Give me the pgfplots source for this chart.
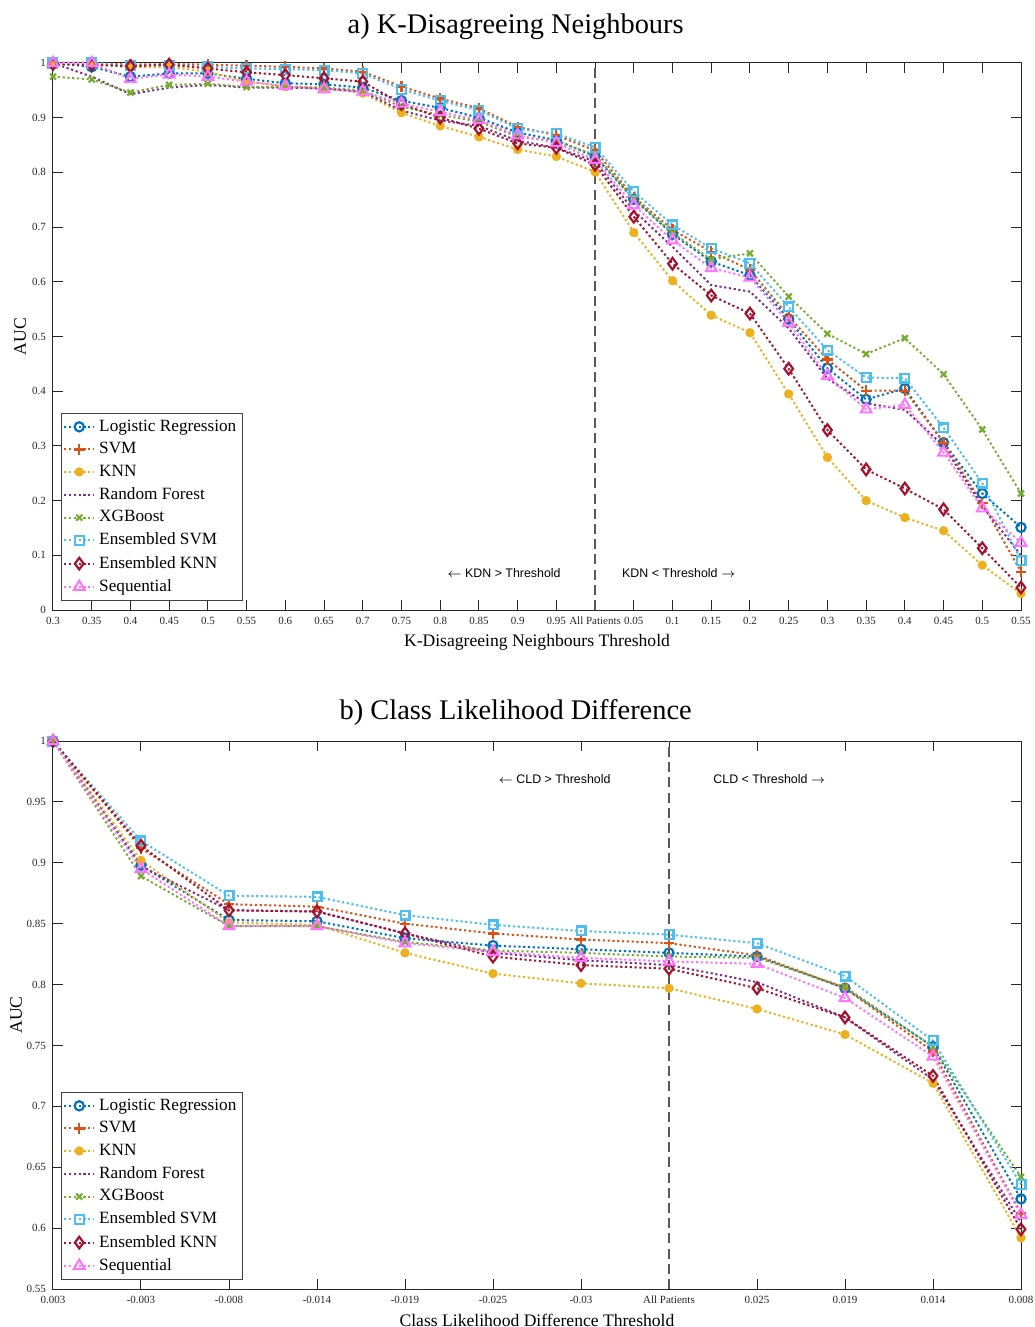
\documentclass[border=0pt]{standalone}
\usepackage{fontspec}
\setmainfont{Liberation Serif}
\newfontfamily\sansf{Liberation Sans}
\usepackage{pgfplots}
\usepackage{pgfplotstable}
\pgfplotsset{compat=1.18}

\definecolor{cLR}{rgb}{0,0.447,0.741}
\definecolor{cSVM}{rgb}{0.85,0.325,0.098}
\definecolor{cKNN}{rgb}{0.929,0.694,0.125}
\definecolor{cRF}{rgb}{0.494,0.184,0.556}
\definecolor{cXGB}{rgb}{0.466,0.674,0.188}
\definecolor{cESVM}{rgb}{0.301,0.745,0.933}
\definecolor{cEKNN}{rgb}{0.635,0.078,0.184}
\definecolor{cSEQ}{rgb}{1,0.45,1}
\definecolor{axgray}{rgb}{0.15,0.15,0.15}

\tikzset{annot/.style={font=\sansf\fontsize{6.2}{7}\selectfont, inner sep=0pt}}

\pgfplotstableread{
i lr svm knn rf xgb esvm eknn seq
0 1.000 1.000 1.000 1.000 0.975 1.000 0.998 1.000
1 0.993 1.000 0.998 0.975 0.970 1.000 0.997 1.000
2 0.975 0.997 0.992 0.943 0.946 0.995 0.994 0.971
3 0.981 0.998 0.993 0.955 0.960 0.996 0.997 0.979
4 0.981 0.997 0.984 0.960 0.962 0.993 0.990 0.975
5 0.971 0.995 0.966 0.955 0.956 0.990 0.983 0.966
6 0.963 0.993 0.957 0.955 0.956 0.989 0.978 0.958
7 0.961 0.990 0.955 0.953 0.955 0.987 0.972 0.952
8 0.955 0.984 0.945 0.948 0.950 0.981 0.966 0.948
9 0.931 0.957 0.909 0.913 0.920 0.952 0.925 0.926
10 0.918 0.935 0.885 0.895 0.905 0.931 0.900 0.911
11 0.900 0.917 0.865 0.885 0.893 0.914 0.880 0.896
12 0.873 0.883 0.842 0.858 0.865 0.880 0.853 0.868
13 0.859 0.868 0.829 0.845 0.857 0.871 0.845 0.854
14 0.829 0.840 0.801 0.820 0.832 0.846 0.814 0.823
15 0.751 0.755 0.690 0.730 0.752 0.765 0.719 0.740
16 0.687 0.695 0.602 0.664 0.689 0.704 0.633 0.676
17 0.637 0.655 0.539 0.594 0.641 0.661 0.575 0.625
18 0.612 0.622 0.507 0.582 0.652 0.634 0.542 0.608
19 0.532 0.537 0.395 0.515 0.573 0.554 0.441 0.525
20 0.442 0.458 0.279 0.423 0.505 0.475 0.329 0.428
21 0.385 0.401 0.200 0.378 0.468 0.425 0.257 0.367
22 0.405 0.401 0.169 0.366 0.497 0.424 0.222 0.375
23 0.306 0.306 0.145 0.300 0.431 0.333 0.184 0.288
24 0.213 0.195 0.082 0.190 0.330 0.232 0.113 0.186
25 0.151 0.070 0.030 0.100 0.213 0.091 0.041 0.123
}\kdn

\pgfplotstableread{
i lr svm knn rf xgb esvm eknn seq
0 1.000 1.000 1.000 1.000 1.000 1.000 1.000 1.000
1 0.898 0.912 0.902 0.897 0.889 0.918 0.914 0.895
2 0.853 0.866 0.851 0.861 0.848 0.873 0.861 0.848
3 0.852 0.864 0.849 0.860 0.848 0.872 0.860 0.848
4 0.838 0.850 0.826 0.842 0.835 0.857 0.842 0.834
5 0.832 0.842 0.809 0.826 0.828 0.849 0.823 0.827
6 0.829 0.837 0.801 0.820 0.826 0.844 0.816 0.822
7 0.826 0.834 0.797 0.816 0.823 0.841 0.813 0.819
8 0.823 0.824 0.780 0.802 0.822 0.834 0.797 0.817
9 0.797 0.797 0.759 0.773 0.798 0.807 0.773 0.789
10 0.749 0.745 0.719 0.722 0.749 0.754 0.725 0.741
11 0.624 0.612 0.592 0.605 0.642 0.636 0.599 0.611
}\cld

\pgfplotsset{
  dotln/.style={line width=1pt, dash pattern=on 1.1pt off 1.3pt},
  sLR/.style={dotln, color=cLR, mark=o, mark size=2.3pt, mark options={solid, line width=1.1pt}},
  sSVM/.style={dotln, color=cSVM, mark=+, mark size=2.7pt, mark options={solid, line width=1.1pt}},
  sKNN/.style={dotln, color=cKNN, mark=*, mark size=1.8pt, mark options={solid, fill=cKNN}},
  sRF/.style={dotln, color=cRF, mark=none},
  sXGB/.style={dotln, color=cXGB, mark=x, mark size=2.1pt, mark options={solid, line width=1.1pt}},
  sESVM/.style={dotln, color=cESVM, mark=square, mark size=2.2pt, mark options={solid, line width=1.1pt}},
  sEKNN/.style={dotln, color=cEKNN, mark=diamond, mark size=2.9pt, mark options={solid, line width=1.1pt}},
  sSEQ/.style={dotln, color=cSEQ, mark=triangle, mark size=3.1pt, mark options={solid, line width=1pt}},
  common/.style={
    scale only axis,
    width=484pt,
    clip=false,
    axis line style={axgray, line width=0.5pt},
    tick style={axgray, line width=0.5pt},
    major tick length=5pt,
    tick align=inside,
    xtick pos=both, ytick pos=both,
    tick label style={font=\fontsize{5.5}{6}\selectfont, text=axgray},
    /pgf/number format/assume math mode=true,
    label style={font=\fontsize{8.8}{10}\selectfont, text=black},
    ylabel style={at={(axis description cs:-0.034,0.5)}, anchor=center, rotate=0},
    legend cell align=left,
    legend style={at={(rel axis cs:0.008,0.017)}, anchor=south west,
      font=\fontsize{8.6}{10}\selectfont, draw=black!75, line width=0.5pt,
      inner sep=1pt, row sep=0.1pt, fill=white},
    legend image code/.code={\draw[mark repeat=2,mark phase=2] plot coordinates {(0pt,0pt) (7.5pt,0pt) (15pt,0pt)};},
    xtick=data,
  },
}

\begin{document}
\begin{tikzpicture}
\begin{axis}[common, name=top, at={(0,0)}, anchor=north west,
  height=273.5pt,
  xmin=0, xmax=25, ymin=0, ymax=1,
  ytick={0,0.1,...,1},
  xticklabels={0.3,0.35,0.4,0.45,0.5,0.55,0.6,0.65,0.7,0.75,0.8,0.85,0.9,0.95,All Patients,0.05,0.1,0.15,0.2,0.25,0.3,0.35,0.4,0.45,0.5,0.55},
  xlabel={K-Disagreeing Neighbours Threshold},
  xlabel style={at={(axis description cs:0.5,-0.0585)}, anchor=center},
  ylabel={AUC},
]
\addplot[sLR] table[x=i,y=lr]{\kdn}; \addlegendentry{Logistic Regression}
\addplot[sSVM] table[x=i,y=svm]{\kdn}; \addlegendentry{SVM}
\addplot[sKNN] table[x=i,y=knn]{\kdn}; \addlegendentry{KNN}
\addplot[sRF] table[x=i,y=rf]{\kdn}; \addlegendentry{Random Forest}
\addplot[sXGB] table[x=i,y=xgb]{\kdn}; \addlegendentry{XGBoost}
\addplot[sESVM] table[x=i,y=esvm]{\kdn}; \addlegendentry{Ensembled SVM}
\addplot[sEKNN] table[x=i,y=eknn]{\kdn}; \addlegendentry{Ensembled KNN}
\addplot[sSEQ] table[x=i,y=seq]{\kdn}; \addlegendentry{Sequential}
\addplot[forget plot, color=black!65, line width=1pt, dash pattern=on 5pt off 2.6pt] coordinates {(14,0) (14,1)};
\node[annot, anchor=east] at (axis cs:13.12,0.068) {$\leftarrow$\ KDN > Threshold};
\node[annot, anchor=west] at (axis cs:14.69,0.068) {KDN < Threshold $\rightarrow$};
\node[font=\fontsize{14.2}{16}\selectfont, anchor=center] at (axis description cs:0.478,1.067) {a) K-Disagreeing Neighbours};
\end{axis}

\begin{axis}[common, name=bot, at={(0,-339pt)}, anchor=north west,
  height=274pt,
  xmin=0, xmax=11, ymin=0.55, ymax=1,
  ytick={0.55,0.6,...,1.01},
  yticklabels={0.55,0.6,0.65,0.7,0.75,0.8,0.85,0.9,0.95,1},
  xticklabels={0.003,-0.003,-0.008,-0.014,-0.019,-0.025,-0.03,All Patients,0.025,0.019,0.014,0.008},
  xlabel={Class Likelihood Difference Threshold},
  xlabel style={at={(axis description cs:0.5,-0.0566)}, anchor=center},
  ylabel={AUC},
  ylabel style={at={(axis description cs:-0.038,0.5)}},
]
\addplot[sLR] table[x=i,y=lr]{\cld}; \addlegendentry{Logistic Regression}
\addplot[sSVM] table[x=i,y=svm]{\cld}; \addlegendentry{SVM}
\addplot[sKNN] table[x=i,y=knn]{\cld}; \addlegendentry{KNN}
\addplot[sRF] table[x=i,y=rf]{\cld}; \addlegendentry{Random Forest}
\addplot[sXGB] table[x=i,y=xgb]{\cld}; \addlegendentry{XGBoost}
\addplot[sESVM] table[x=i,y=esvm]{\cld}; \addlegendentry{Ensembled SVM}
\addplot[sEKNN] table[x=i,y=eknn]{\cld}; \addlegendentry{Ensembled KNN}
\addplot[sSEQ] table[x=i,y=seq]{\cld}; \addlegendentry{Sequential}
\addplot[forget plot, color=black!65, line width=1pt, dash pattern=on 5pt off 2.6pt] coordinates {(7,0.55) (7,1)};
\node[annot, anchor=east] at (axis cs:6.34,0.969) {$\leftarrow$\ CLD > Threshold};
\node[annot, anchor=west] at (axis cs:7.5,0.969) {CLD < Threshold $\rightarrow$};
\node[font=\fontsize{14.2}{16}\selectfont, anchor=center] at (axis description cs:0.478,1.052) {b) Class Likelihood Difference};
\end{axis}
\pgfresetboundingbox
\path[use as bounding box] (-26.5pt,31.5pt) rectangle (490.5pt,-632pt);
\end{tikzpicture}
\end{document}
